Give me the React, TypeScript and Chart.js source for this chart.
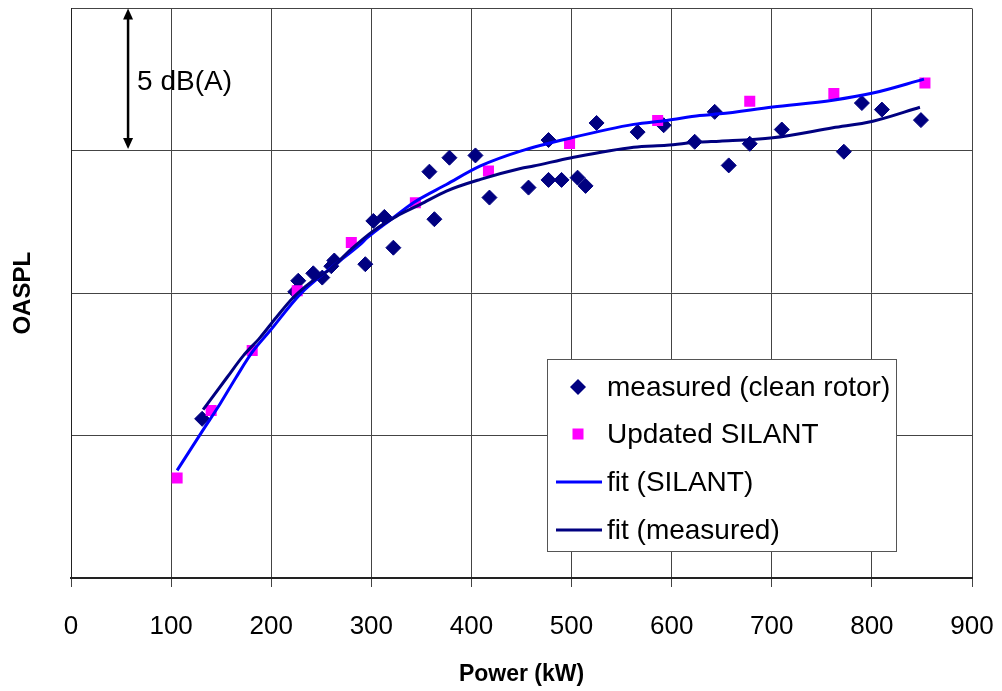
import React, { useEffect, useRef } from "react";
import { Chart, registerables } from "chart.js";

Chart.register(...registerables);

const FONT = 'Arial, "Liberation Sans", Helvetica, sans-serif';

// ---- data ----
const measuredX = [131, 224, 227, 242, 251, 260, 263, 294, 302, 313, 322, 358, 363, 378, 404, 418, 457, 477, 477, 490, 506, 514, 525, 566, 592, 623, 643, 657, 678, 710, 772, 790, 810, 849];
const measuredY = [5.59, 10.05, 10.44, 10.7, 10.55, 10.95, 11.15, 11.02, 12.54, 12.68, 11.6, 14.27, 12.6, 14.76, 14.84, 13.36, 13.71, 15.38, 13.98, 13.98, 14.06, 13.77, 15.98, 15.66, 15.9, 15.32, 16.37, 14.49, 15.25, 15.75, 14.97, 16.68, 16.45, 16.08];

const silantX = [106, 140, 181, 226, 280, 344, 417, 498, 586, 678, 762, 853];
const silantY = [3.51, 5.88, 7.99, 10.09, 11.78, 13.18, 14.29, 15.26, 16.07, 16.74, 17.01, 17.38];

const fitSilantX = [106, 131, 149, 165, 181, 199, 229, 260, 289, 296, 320, 342, 375, 409, 449, 500, 562, 595, 628, 648, 701, 761, 801, 852];
const fitSilantY = [3.78, 5.15, 6.12, 7.05, 7.93, 8.69, 9.97, 10.9, 11.72, 11.95, 12.6, 13.18, 13.82, 14.47, 14.99, 15.46, 15.93, 16.07, 16.24, 16.3, 16.54, 16.78, 17.03, 17.52];

const fitMeasX = [132, 156, 172, 189, 205, 222, 240, 259, 280, 302, 325, 349, 375, 409, 449, 462, 500, 562, 595, 628, 648, 701, 761, 801, 848];
const fitMeasY = [5.91, 7.05, 7.8, 8.45, 9.15, 9.85, 10.4, 10.85, 11.55, 12.19, 12.7, 13.12, 13.59, 14.0, 14.38, 14.47, 14.76, 15.13, 15.2, 15.31, 15.34, 15.46, 15.81, 16.04, 16.53];

const seriesLabels = ["measured (clean rotor)", "Updated SILANT", "fit (SILANT)", "fit (measured)"];
const xAxisTitle = "Power (kW)";
const yAxisTitle = "OASPL";
const xMin = 0, xMax = 900, xStep = 100;
const yMin = 0, yMax = 20, yStep = 5;

const annotationText = "5 dB(A)";
const arrowX = 57;
const arrowFrom = 15;
const arrowTo = 20;

const NAVY = "#000080";
const PINK = "#FF00FF";
const BLUE = "#0000FF";

const toPts = (xs: number[], ys: number[]) => xs.map((x, i) => ({ x, y: ys[i] }));

const overlayPlugin = {
  id: "overlay",
  afterDraw(chart: any) {
    const ctx = chart.ctx as CanvasRenderingContext2D;
    const xs = chart.scales.x;
    const ys = chart.scales.y;
    // arrow annotation
    const ax = xs.getPixelForValue(arrowX);
    const yTop = ys.getPixelForValue(arrowTo);
    const yBot = ys.getPixelForValue(arrowFrom);
    ctx.save();
    ctx.strokeStyle = "#000";
    ctx.fillStyle = "#000";
    ctx.lineWidth = 2.5;
    ctx.beginPath();
    ctx.moveTo(ax, yTop + 6);
    ctx.lineTo(ax, yBot - 6);
    ctx.stroke();
    ctx.beginPath();
    ctx.moveTo(ax, yTop);
    ctx.lineTo(ax - 5, yTop + 11);
    ctx.lineTo(ax + 5, yTop + 11);
    ctx.closePath();
    ctx.fill();
    ctx.beginPath();
    ctx.moveTo(ax, yBot - 2);
    ctx.lineTo(ax - 5, yBot - 13);
    ctx.lineTo(ax + 5, yBot - 13);
    ctx.closePath();
    ctx.fill();
    ctx.font = `28px ${FONT}`;
    ctx.textBaseline = "middle";
    ctx.textAlign = "left";
    ctx.fillText(annotationText, ax + 9, (yTop + yBot) / 2 + 3);

    // legend box
    const lx = 547, ly = 359, lw = 349, lh = 192;
    ctx.fillStyle = "#fff";
    ctx.fillRect(lx, ly, lw, lh);
    ctx.strokeStyle = "#555";
    ctx.lineWidth = 1;
    ctx.strokeRect(lx + 0.5, ly + 0.5, lw, lh);
    const rows = [387, 434, 482, 530];
    const symX = 578;
    ctx.font = `28px ${FONT}`;
    ctx.textBaseline = "middle";
    // diamond
    ctx.fillStyle = NAVY;
    ctx.beginPath();
    ctx.moveTo(symX, rows[0] - 8);
    ctx.lineTo(symX + 8, rows[0]);
    ctx.lineTo(symX, rows[0] + 8);
    ctx.lineTo(symX - 8, rows[0]);
    ctx.closePath();
    ctx.fill();
    // square
    ctx.fillStyle = PINK;
    ctx.fillRect(symX - 5.5, rows[1] - 5.5, 11, 11);
    // lines
    ctx.lineWidth = 3;
    ctx.strokeStyle = BLUE;
    ctx.beginPath();
    ctx.moveTo(556, rows[2]);
    ctx.lineTo(602, rows[2]);
    ctx.stroke();
    ctx.strokeStyle = NAVY;
    ctx.beginPath();
    ctx.moveTo(556, rows[3]);
    ctx.lineTo(602, rows[3]);
    ctx.stroke();
    ctx.fillStyle = "#000";
    seriesLabels.forEach((t, i) => ctx.fillText(t, 607, rows[i] + 1));
    ctx.restore();
  },
};

export default function App() {
  const ref = useRef<HTMLCanvasElement | null>(null);
  useEffect(() => {
    if (!ref.current) return;
    const chart = new Chart(ref.current, {
      type: "scatter",
      data: {
        datasets: [
          {
            label: seriesLabels[3],
            data: toPts(fitMeasX, fitMeasY),
            showLine: true,
            borderColor: NAVY,
            borderWidth: 3,
            pointRadius: 0,
            cubicInterpolationMode: "monotone",
            order: 1,
          },
          {
            label: seriesLabels[2],
            data: toPts(fitSilantX, fitSilantY),
            showLine: true,
            borderColor: BLUE,
            borderWidth: 3,
            pointRadius: 0,
            cubicInterpolationMode: "monotone",
            order: 2,
          },
          {
            label: seriesLabels[1],
            data: toPts(silantX, silantY),
            pointStyle: "rect",
            pointRadius: 7.8,
            backgroundColor: PINK,
            borderColor: PINK,
            borderWidth: 0,
            order: 3,
          },
          {
            label: seriesLabels[0],
            data: toPts(measuredX, measuredY),
            pointStyle: "rectRot",
            pointRadius: 7.5,
            backgroundColor: NAVY,
            borderColor: NAVY,
            borderWidth: 1,
            order: 4,
          },
        ],
      } as any,
      options: {
        animation: false,
        responsive: false,
        devicePixelRatio: 1,
        layout: { padding: { top: 7, right: 30, bottom: 0, left: 0 } },
        plugins: { legend: { display: false }, tooltip: { enabled: false } },
        scales: {
          x: {
            type: "linear",
            min: xMin,
            max: xMax,
            ticks: {
              stepSize: xStep,
              color: "#000",
              font: { family: FONT, size: 26 },
              padding: 24,
              maxRotation: 0,
              autoSkip: false,
            },
            grid: { color: "#444", lineWidth: 1, drawTicks: true, tickLength: 9, tickColor: "#444" },
            border: { color: "#222", width: 2 },
            title: {
              display: true,
              text: xAxisTitle,
              color: "#000",
              font: { family: FONT, size: 23, weight: "bold" },
              padding: { top: 0, bottom: 3 },
            },
            afterFit: (s: any) => {
              s.height = 113;
              s.paddingLeft = 0;
              s.paddingRight = 0;
            },
          },
          y: {
            type: "linear",
            min: yMin,
            max: yMax,
            ticks: { stepSize: yStep, display: false },
            grid: { color: "#444", lineWidth: 1, drawTicks: false },
            border: { color: "#222", width: 1 },
            title: {
              display: true,
              text: yAxisTitle,
              color: "#000",
              font: { family: FONT, size: 24, weight: "bold" },
              padding: { top: 9, bottom: 0 },
            },
            afterFit: (s: any) => {
              s.width = 71;
              s.paddingTop = 0;
              s.paddingBottom = 0;
            },
          },
        },
      } as any,
      plugins: [overlayPlugin],
    });
    return () => chart.destroy();
  }, []);
  return (
    <div style={{ position: "fixed", left: 0, top: 0, width: 1002, height: 691, background: "#fff" }}>
      <canvas ref={ref} width={1002} height={691} style={{ display: "block" }} />
    </div>
  );
}
